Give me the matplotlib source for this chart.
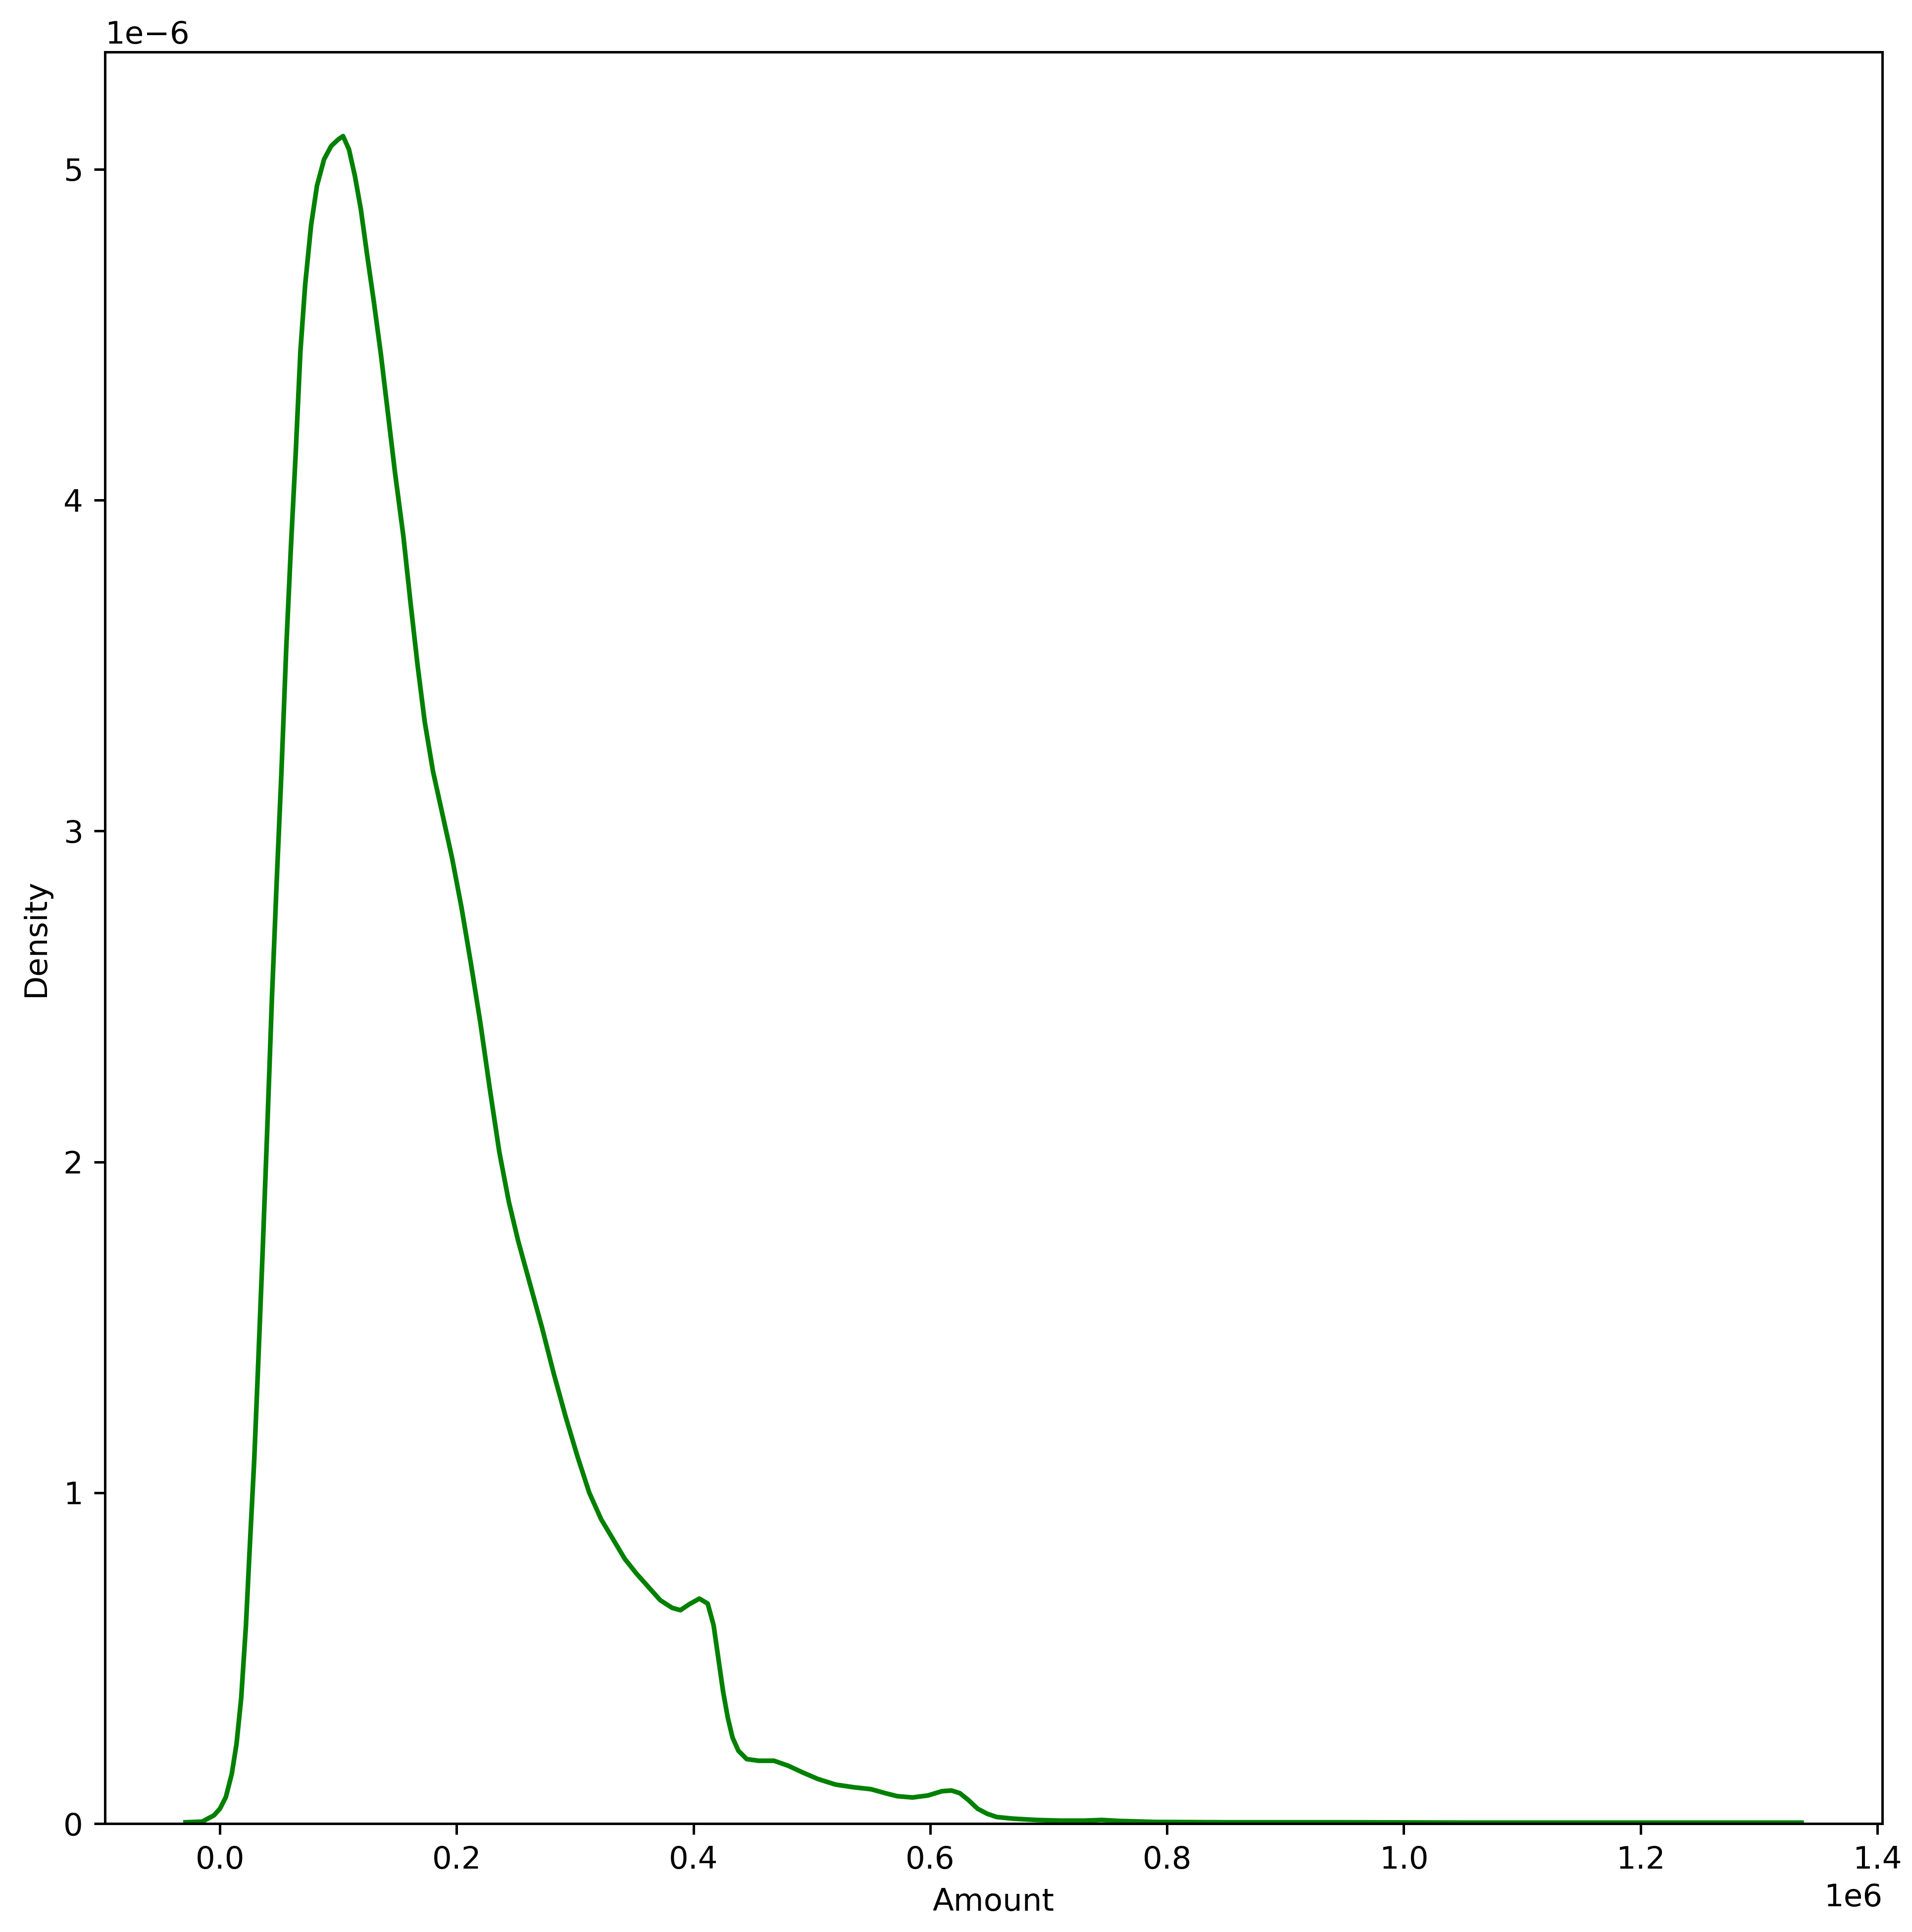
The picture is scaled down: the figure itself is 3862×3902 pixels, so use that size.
"""
Density curve of transaction amount (KDE read off the reference figure).
"""
import matplotlib
matplotlib.use("Agg")
import matplotlib.pyplot as plt
import numpy as np

# amount in millions (1e6), density in micro-units (1e-6)
amount_m = [
    -0.029, -0.015, -0.005, 0.000, 0.005, 0.010, 0.014, 0.018, 0.022, 0.025,
    0.029, 0.032, 0.036, 0.040, 0.044, 0.048, 0.052, 0.056, 0.060, 0.064,
    0.068, 0.072, 0.077, 0.082, 0.088, 0.094, 0.100, 0.104, 0.109, 0.114,
    0.119, 0.124, 0.130, 0.136, 0.142, 0.148, 0.155, 0.161, 0.167, 0.173,
    0.180, 0.188, 0.196, 0.204, 0.212, 0.220, 0.228, 0.236, 0.244, 0.252,
    0.262, 0.272, 0.282, 0.292, 0.302, 0.312, 0.322, 0.332, 0.342, 0.352,
    0.362, 0.372, 0.382, 0.389, 0.396, 0.405, 0.412, 0.417, 0.421, 0.425,
    0.429, 0.433, 0.438, 0.445, 0.455, 0.468, 0.480, 0.492, 0.505, 0.520,
    0.535, 0.550, 0.562, 0.572, 0.585, 0.598, 0.610, 0.618, 0.625, 0.632,
    0.640, 0.648, 0.656, 0.670, 0.690, 0.710, 0.730, 0.745, 0.760, 0.790,
    0.850, 0.950, 1.050, 1.150, 1.250, 1.336,
]
density_u = [
    0.004, 0.006, 0.025, 0.045, 0.08, 0.15, 0.24, 0.38, 0.60, 0.82,
    1.10, 1.36, 1.72, 2.10, 2.50, 2.85, 3.18, 3.55, 3.86, 4.14,
    4.45, 4.65, 4.83, 4.95, 5.03, 5.07, 5.09, 5.10, 5.06, 4.98,
    4.88, 4.75, 4.60, 4.44, 4.26, 4.08, 3.89, 3.69, 3.50, 3.33,
    3.18, 3.05, 2.92, 2.77, 2.60, 2.42, 2.22, 2.03, 1.88, 1.76,
    1.63, 1.50, 1.36, 1.23, 1.11, 1.00, 0.92, 0.86, 0.80, 0.755,
    0.715, 0.675, 0.652, 0.645, 0.662, 0.68, 0.665, 0.60, 0.50, 0.40,
    0.32, 0.26, 0.22, 0.195, 0.19, 0.19, 0.175, 0.155, 0.135, 0.118,
    0.110, 0.104, 0.092, 0.083, 0.079, 0.085, 0.098, 0.100, 0.092, 0.072,
    0.045, 0.030, 0.020, 0.015, 0.011, 0.009, 0.009, 0.011, 0.008, 0.005,
    0.004, 0.004, 0.003, 0.003, 0.003, 0.003,
]

S = 1.17  # the reference was drawn a little larger than default styling

plt.rcParams.update({
    "font.size": 10 * S,
    "axes.linewidth": 0.8 * S,
    "xtick.major.size": 3.5 * S,
    "ytick.major.size": 3.5 * S,
    "xtick.major.width": 0.8 * S,
    "ytick.major.width": 0.8 * S,
    "xtick.major.pad": 3.5 * S,
    "ytick.major.pad": 3.5 * S,
    "axes.labelpad": 4.0 * S,
})


def main():
    x = np.array(amount_m) * 1e6
    y = np.array(density_u) * 1e-6

    fig = plt.figure(figsize=(10, 10.1036), dpi=386.2)
    ax = fig.add_axes([0.0548, 0.0561, 0.9297, 0.9171])

    ax.plot(x, y, color="green", linewidth=1.5 * S)
    ax.set_ylim(bottom=0)

    ax.set_xlabel("Amount")
    ax.set_ylabel("Density")

    fig.savefig("out.png", dpi=386.2)
    plt.close(fig)


if __name__ == "__main__":
    main()
